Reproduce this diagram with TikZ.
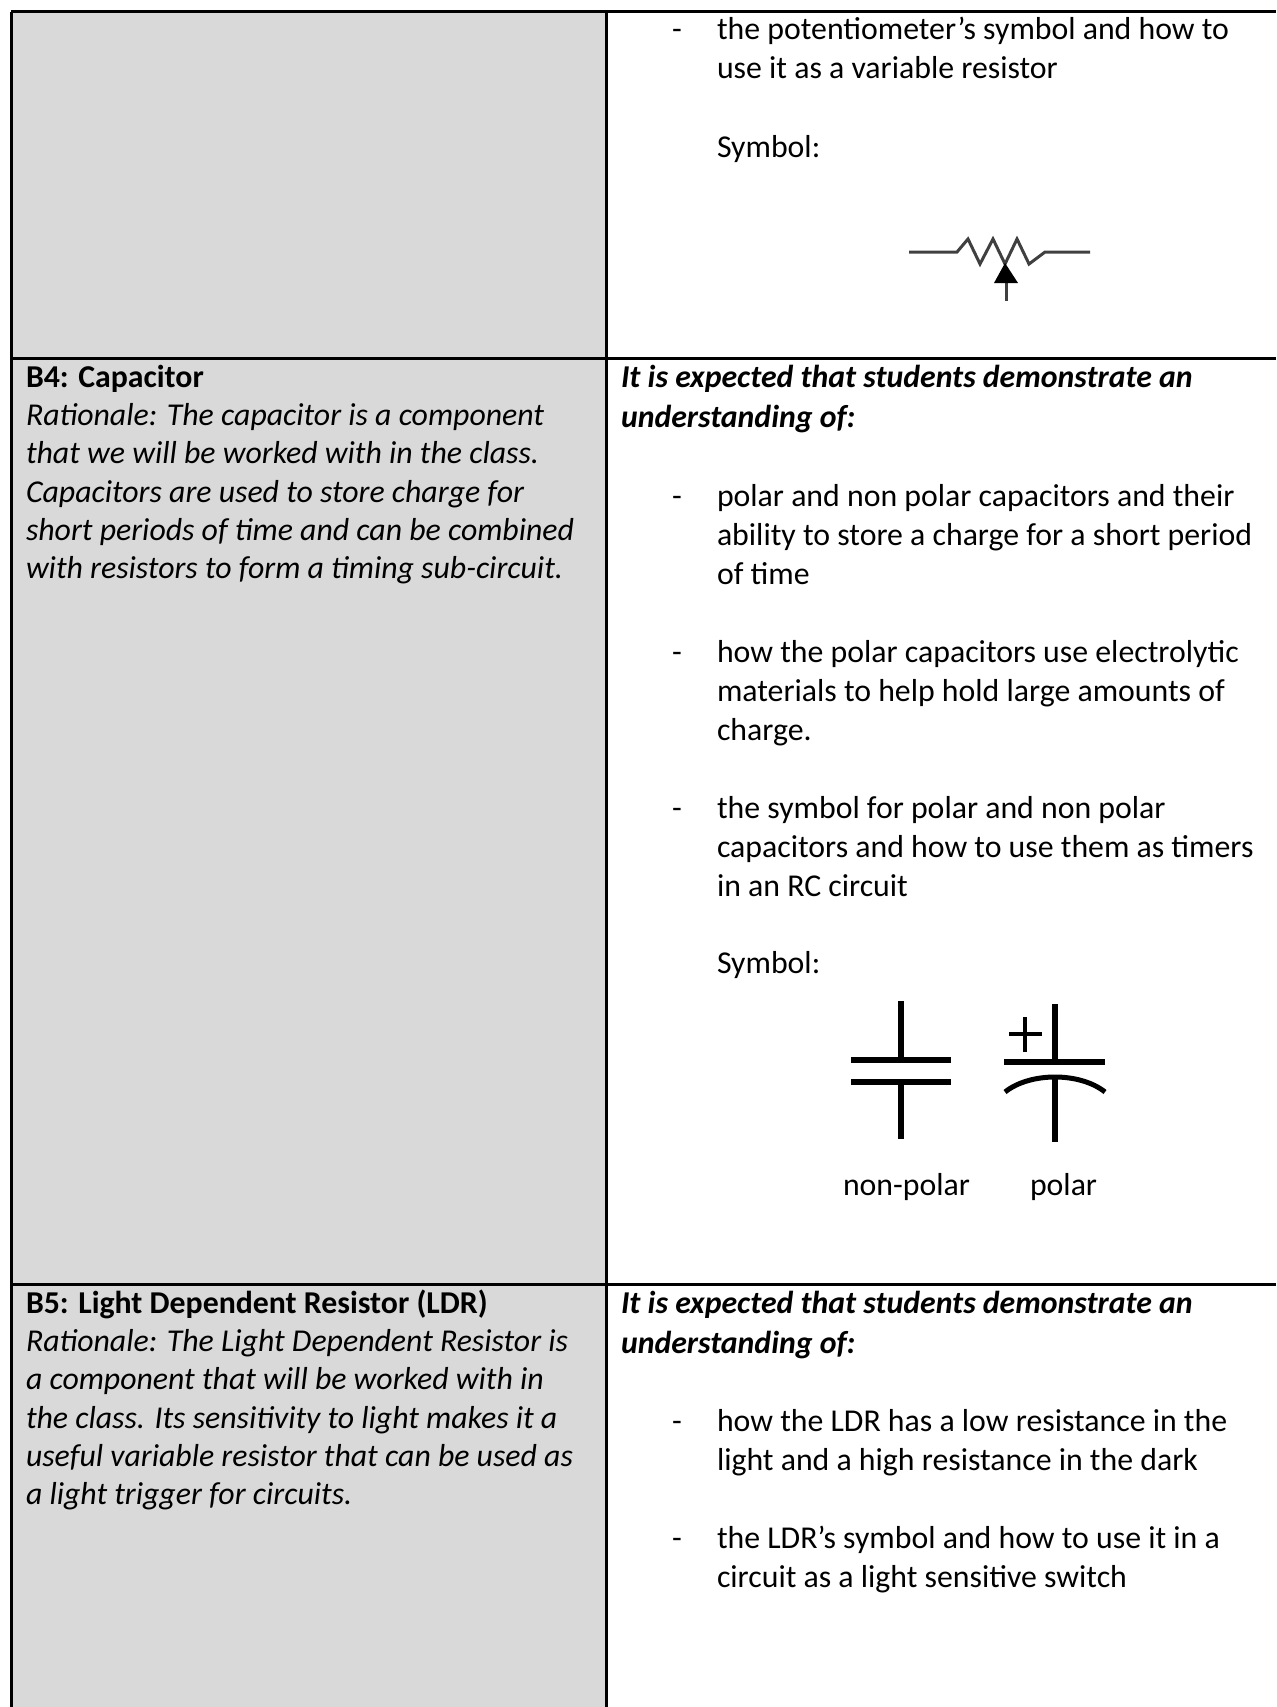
\documentclass[tikz,border=0pt]{standalone}
\usepackage{fontspec}
\setmainfont{Carlito}
\begin{document}
\begin{tikzpicture}[x=0.5pt,y=-0.5pt,
  txt/.style={anchor=base west,inner sep=0pt,outer sep=0pt,font=\fontsize{15.9}{18}\selectfont},
  hd/.style={txt,font=\fontsize{15.9}{18}\selectfont\bfseries},
  hdi/.style={txt,font=\fontsize{15.9}{18}\selectfont\bfseries\itshape},
  rat/.style={txt,font=\fontsize{15.9}{18}\selectfont\itshape},
  border/.style={line width=1.5pt,black},
  potline/.style={line width=1.5pt,black!75,line join=miter},
  capline/.style={line width=3pt,black}]
\useasboundingbox (0,0) rectangle (1276,1707);
% gray left column
\fill[fill={rgb,255:red,217;green,217;blue,217}] (11,12) rectangle (606,1707);
% borders
\coordinate (tl) at (11,12); \coordinate (tr) at (1276,12);
\coordinate (r1l) at (11,358); \coordinate (r1r) at (1276,358);
\coordinate (r2l) at (11,1284); \coordinate (r2r) at (1276,1284);
\coordinate (ml) at (11,1707); \coordinate (mt) at (606,12); \coordinate (mb) at (606,1707);
\draw[border] (tl) -- (tr);
\draw[border] (r1l) -- (r1r);
\draw[border] (r2l) -- (r2r);
\draw[border] (tl) -- (ml);
\draw[border] (mt) -- (mb);

% ---------- row 1 ----------
\node[txt] (d1) at (672,40) {-};
\node[txt] (a1) at (717,40) {the potentiometer’s symbol and how to};
\node[txt] (a2) at (717,79) {use it as a variable resistor};
\node[txt] (s1) at (717,157) {Symbol:};
% potentiometer
\coordinate (pl) at (909,252);
\coordinate (pr) at (1090,252);
\coordinate (pw) at (1006,301);
\draw[potline] (pl) -- (957,252) -- (968,239) -- (980,264) -- (993,239) -- (1005,264) -- (1017,239) -- (1029,264) -- (1045,252) -- (pr);
\draw[potline] (pw) -- (1006,280);
\fill[black] (1005,263) -- (994,283) -- (1018,283) -- cycle;

% ---------- row 2 ----------
\node[hd] (b4) at (26,387) {B4: Capacitor};
\node[rat] (b4a) at (26,425) {Rationale: The capacitor is a component};
\node[rat] (b4b) at (26,463) {that we will be worked with in the class.};
\node[rat] (b4c) at (26,502) {Capacitors are used to store charge for};
\node[rat] (b4d) at (26,540) {short periods of time and can be combined};
\node[rat] (b4e) at (26,578) {with resistors to form a timing sub-circuit.};

\node[hdi] (h2a) at (621,387) {It is expected that students demonstrate an};
\node[hdi] (h2b) at (621,427) {understanding of:};
\node[txt] (d2) at (672,506) {-};
\node[txt] (c1) at (717,506) {polar and non polar capacitors and their};
\node[txt] (c2) at (717,545) {ability to store a charge for a short period};
\node[txt] (c3) at (717,584) {of time};
\node[txt] (d3) at (672,662) {-};
\node[txt] (c4) at (717,662) {how the polar capacitors use electrolytic};
\node[txt] (c5) at (717,701) {materials to help hold large amounts of};
\node[txt] (c6) at (717,740) {charge.};
\node[txt] (d4) at (672,818) {-};
\node[txt] (c7) at (717,818) {the symbol for polar and non polar};
\node[txt] (c8) at (717,857) {capacitors and how to use them as timers};
\node[txt] (c9) at (717,896) {in an RC circuit};
\node[txt] (s2) at (717,973) {Symbol:};
% non-polar capacitor
\coordinate (np1) at (901,1001); \coordinate (np2) at (901,1060);
\coordinate (np3) at (901,1082); \coordinate (np4) at (901,1139);
\draw[capline] (np1) -- (np2);
\draw[capline] (851,1060) -- (951,1060);
\draw[capline] (851,1082) -- (951,1082);
\draw[capline] (np3) -- (np4);
% polar capacitor
\coordinate (p1) at (1055,1004); \coordinate (p2) at (1055,1062);
\coordinate (p3) at (1055,1078); \coordinate (p4) at (1055,1142);
\draw[capline] (p1) -- (p2);
\draw[capline] (1004,1062) -- (1105,1062);
\draw[line width=2.5pt,black] (1005,1092) .. controls (1030,1072) and (1080,1072) .. (1105,1092);
\draw[capline] (p3) -- (p4);
\draw[line width=2pt,black] (1009,1034) -- (1042,1034);
\draw[line width=2pt,black] (1025,1017) -- (1025,1052);
\node[txt] (np) at (843,1195) {non-polar};
\node[txt] (po) at (1030,1195) {polar};

% ---------- row 3 ----------
\node[hd] (b5) at (26,1313) {B5: Light Dependent Resistor (LDR)};
\node[rat] (b5a) at (26,1351) {Rationale: The Light Dependent Resistor is};
\node[rat] (b5b) at (26,1389) {a component that will be worked with in};
\node[rat] (b5c) at (26,1428) {the class. Its sensitivity to light makes it a};
\node[rat] (b5d) at (26,1466) {useful variable resistor that can be used as};
\node[rat] (b5e) at (26,1504) {a light trigger for circuits.};

\node[hdi] (h3a) at (621,1313) {It is expected that students demonstrate an};
\node[hdi] (h3b) at (621,1353) {understanding of:};
\node[txt] (d5) at (672,1431) {-};
\node[txt] (e1) at (717,1431) {how the LDR has a low resistance in the};
\node[txt] (e2) at (717,1470) {light and a high resistance in the dark};
\node[txt] (d6) at (672,1548) {-};
\node[txt] (e3) at (717,1548) {the LDR’s symbol and how to use it in a};
\node[txt] (e4) at (717,1587) {circuit as a light sensitive switch};
\end{tikzpicture}
\end{document}
